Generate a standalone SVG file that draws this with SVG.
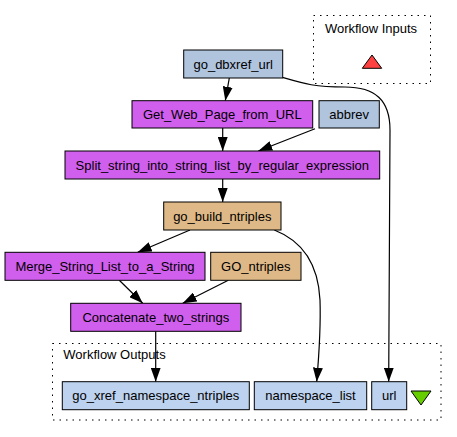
<svg xmlns="http://www.w3.org/2000/svg" width="457" height="437" viewBox="0 0 457 437">
<style>
text{font-family:"Liberation Sans",Arial,sans-serif;font-size:13px;fill:#000}
.n text{text-anchor:middle}
.box{stroke:#000;stroke-width:1}
.in{fill:#b0c4de}
.out{fill:#bcd2ee}
.proc{fill:#d15fee}
.bean{fill:#deb887}
.cl{fill:none;stroke:#000;stroke-width:1;stroke-dasharray:1.5,5}
.e{fill:none;stroke:#000;stroke-width:1.2;marker-end:url(#ah)}
</style>
<defs>
<marker id="ah" viewBox="0 0 14 10" refX="14" refY="5" markerWidth="14" markerHeight="10" markerUnits="userSpaceOnUse" orient="auto">
<path d="M0,0 L14,5 L0,10 z" fill="#000"/>
</marker>
</defs>
<rect width="457" height="437" fill="#fff"/>
<g id="cluster_inputs">
<rect class="cl" x="313.5" y="15.5" width="117" height="68"/>
<text x="371" y="33" text-anchor="middle">Workflow Inputs</text>
<polygon points="362.3,68.3 381.7,68.3 372,55" fill="#ff4040" stroke="#000" stroke-width="1"/>
</g>
<g id="cluster_outputs">
<rect class="cl" x="52.5" y="343.5" width="388.5" height="76.5"/>
<text x="63.3" y="359">Workflow Outputs</text>
<polygon points="411,391 431,391 421,405" fill="#66cd00" stroke="#000" stroke-width="1"/>
</g>
<g id="connectors">
<path class="e" d="M229.3,78 L225.3,100.7"/>
<path class="e" d="M222.7,128 L222.7,151"/>
<path class="e" d="M315,128.7 L258.3,151"/>
<path class="e" d="M222.7,179 L222.7,202"/>
<path class="e" d="M190,230 L137.7,252.3"/>
<path class="e" d="M119.3,280.3 L142.7,303.3"/>
<path class="e" d="M228.3,280.3 L182.7,303.3"/>
<path class="e" d="M155.7,331.3 L155.7,381.7"/>
<path class="e" d="M274.3,230 C300,240 318,260 320,300 C321,330 319,355 316.7,381.7"/>
<path class="e" d="M282.7,77.5 C305,84 315,87 345,87 C375,87 390,100 390,130 L388.7,381.7"/>
</g>
<g id="go_dbxref_url" class="n">
<rect class="box in" x="183.7" y="50" width="99" height="28"/>
<text x="233.2" y="68.5">go_dbxref_url</text>
</g>
<g id="Get_Web_Page_from_URL" class="n">
<rect class="box proc" x="132" y="100.7" width="180.7" height="27.3"/>
<text x="222.3" y="119">Get_Web_Page_from_URL</text>
</g>
<g id="abbrev" class="n">
<rect class="box in" x="319" y="100.7" width="60.3" height="27.3"/>
<text x="349.2" y="119">abbrev</text>
</g>
<g id="Split_string_into_string_list_by_regular_expression" class="n">
<rect class="box proc" x="65" y="151" width="314.7" height="28"/>
<text x="222.3" y="169.5">Split_string_into_string_list_by_regular_expression</text>
</g>
<g id="go_build_ntriples" class="n">
<rect class="box bean" x="163.7" y="202" width="117.3" height="28"/>
<text x="222.3" y="220.5">go_build_ntriples</text>
</g>
<g id="Merge_String_List_to_a_String" class="n">
<rect class="box proc" x="5" y="252.3" width="200" height="28"/>
<text x="105" y="270.8">Merge_String_List_to_a_String</text>
</g>
<g id="GO_ntriples" class="n">
<rect class="box bean" x="210.7" y="252.3" width="90.3" height="28"/>
<text x="255.8" y="270.8">GO_ntriples</text>
</g>
<g id="Concatenate_two_strings" class="n">
<rect class="box proc" x="70.7" y="303.3" width="170.3" height="28"/>
<text x="155.8" y="321.8">Concatenate_two_strings</text>
</g>
<g id="go_xref_namespace_ntriples" class="n">
<rect class="box out" x="62.3" y="381.7" width="187" height="28"/>
<text x="155.8" y="400.2">go_xref_namespace_ntriples</text>
</g>
<g id="namespace_list" class="n">
<rect class="box out" x="254.3" y="381.7" width="112.4" height="28"/>
<text x="310.5" y="400.2">namespace_list</text>
</g>
<g id="url" class="n">
<rect class="box out" x="371.7" y="381.7" width="35" height="28"/>
<text x="389.2" y="400.2">url</text>
</g>
</svg>
